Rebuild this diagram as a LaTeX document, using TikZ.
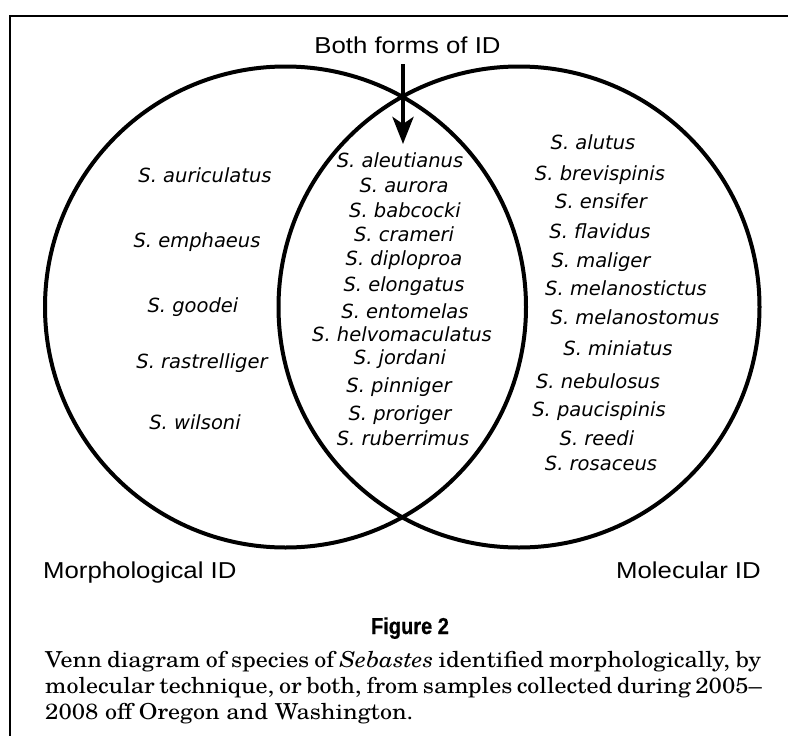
\documentclass[tikz,border=0pt]{standalone}
\usepackage{fontspec}
\usetikzlibrary{arrows.meta}
\newfontfamily\spfont{DejaVu Sans}
\newfontfamily\labfont[FakeStretch=1.12]{Liberation Sans}
\newfontfamily\figfont[FakeStretch=0.87,FakeBold=0.6]{Liberation Sans}
\newfontfamily\capfont[FakeStretch=1.09]{TeX Gyre Schola}
\tikzset{
  sp/.style={font=\spfont\itshape\fontsize{19.5}{22}\selectfont, anchor=base, inner sep=0pt},
  lab/.style={font=\labfont\fontsize{23}{26}\selectfont, inner sep=0pt},
  setcircle/.style={draw, circle, line width=4pt, minimum size=481pt, inner sep=0pt},
  arrowline/.style={line width=4.5pt, -{Stealth[length=27pt,width=21pt,inset=7pt]}},
  captext/.style={font=\capfont\fontsize{22}{25}\selectfont, inner sep=0pt, anchor=base west},
  frameline/.style={line width=2pt}
}
\begin{document}
\begin{tikzpicture}[x=1pt,y=-1pt]
\useasboundingbox (0,0) rectangle (788,736);
\fill[white] (0,0) rectangle (788,736);
\draw[frameline] (10,736) -- (10,16) -- (788,16);
% circles
\node[setcircle] (L) at (285.5,307) {};
\node[setcircle] (R) at (519,307) {};
% arrow
\node[lab, anchor=base] (both) at (407.5,53) {Both forms of ID};
\coordinate (arrS) at (403,64);
\coordinate (arrE) at (403,144);
\draw[arrowline] (arrS) -- (arrE);
% left only
\node[sp] (l1) at (205,182) {S. auriculatus};
\node[sp] (l2) at (197,247) {S. emphaeus};
\node[sp] (l3) at (193,312) {S. goodei};
\node[sp] (l4) at (202,368) {S. rastrelliger};
\node[sp] (l5) at (195,429) {S. wilsoni};
% both
\node[sp] (m1) at (400,167) {S. aleutianus};
\node[sp] (m2) at (404,192) {S. aurora};
\node[sp] (m3) at (405,217) {S. babcocki};
\node[sp] (m4) at (404,241) {S. crameri};
\node[sp] (m5) at (404,265) {S. diploproa};
\node[sp] (m6) at (404,291) {S. elongatus};
\node[sp] (m7) at (405,318) {S. entomelas};
\node[sp] (m8) at (402,341) {S. helvomaculatus};
\node[sp] (m9) at (400,364) {S. jordani};
\node[sp] (m10) at (399,392) {S. pinniger};
\node[sp] (m11) at (400,420) {S. proriger};
\node[sp] (m12) at (403,445) {S. ruberrimus};
% right only
\node[sp] (r1) at (593,149) {S. alutus};
\node[sp] (r2) at (600,180) {S. brevispinis};
\node[sp] (r3) at (601,208) {S. ensifer};
\node[sp] (r4) at (600,238) {S. flavidus};
\node[sp] (r5) at (601,267) {S. maliger};
\node[sp] (r6) at (626,295) {S. melanostictus};
\node[sp] (r7) at (635,324) {S. melanostomus};
\node[sp] (r8) at (618,355) {S. miniatus};
\node[sp] (r9) at (598,388) {S. nebulosus};
\node[sp] (r10) at (599,416) {S. paucispinis};
\node[sp] (r11) at (597,445) {S. reedi};
\node[sp] (r12) at (601,470) {S. rosaceus};
% set labels
\node[lab, anchor=base west] (morph) at (43,578) {Morphological ID};
\node[lab, anchor=base east] (mol) at (761,578) {Molecular ID};
% caption
\node[font=\figfont\bfseries\fontsize{23}{24}\selectfont, inner sep=0pt, anchor=base] (fig) at (410,634) {Figure 2};
\node[captext] (c1) at (45,667) {\makebox[716pt][s]{Venn diagram of species of \textit{Sebastes} identified morphologically, by}};
\node[captext] (c2) at (45,693) {\makebox[716pt][s]{molecular technique, or both, from samples collected during 2005\textendash}};
\node[captext] (c3) at (45,719) {2008 off Oregon and Washington.};
\end{tikzpicture}
\end{document}
